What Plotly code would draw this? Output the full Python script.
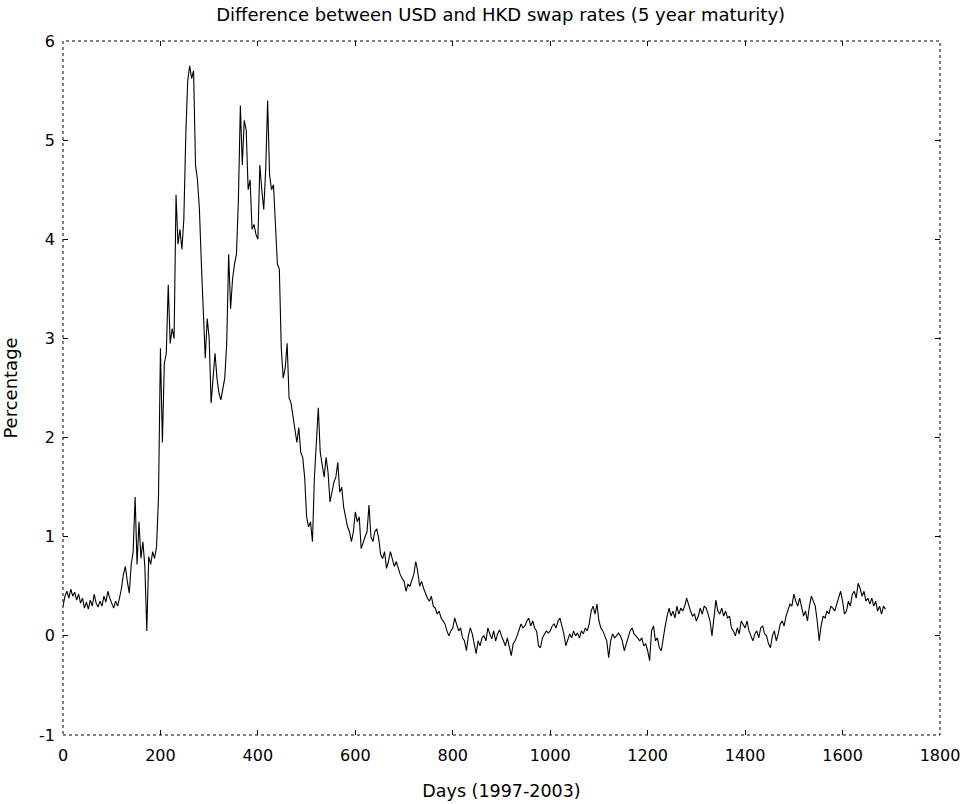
import plotly.graph_objects as go

# Days sampled every 4 days (0 .. 1688)
days = list(range(0, 1692, 4))

# Difference between USD and HKD 5-year swap rates (percentage)
spread = [
    # 0-96
    0.30, 0.40, 0.45, 0.38, 0.47, 0.40, 0.44, 0.36, 0.42, 0.33, 0.38, 0.28, 0.34, 0.27, 0.36, 0.30, 0.42, 0.33, 0.29, 0.35, 0.30, 0.40, 0.34, 0.45, 0.38,
    # 100-196
    0.33, 0.28, 0.35, 0.30, 0.38, 0.48, 0.62, 0.70, 0.55, 0.43, 0.72, 0.85, 1.40, 0.72, 1.15, 0.78, 0.95, 0.70, 0.05, 0.80, 0.72, 0.85, 0.78, 0.90, 1.40,
    # 200-296
    2.90, 1.95, 2.75, 2.85, 3.54, 2.95, 3.10, 3.00, 4.45, 3.95, 4.10, 3.90, 4.20, 5.05, 5.60, 5.75, 5.62, 5.70, 4.75, 4.60, 4.30, 3.75, 3.30, 2.80, 3.20,
    # 300-396
    3.00, 2.35, 2.60, 2.85, 2.60, 2.45, 2.38, 2.50, 2.60, 2.95, 3.85, 3.30, 3.60, 3.75, 3.85, 4.40, 5.35, 4.75, 5.20, 5.10, 4.50, 4.60, 4.10, 4.15, 4.05,
    # 400-496
    4.00, 4.75, 4.50, 4.30, 4.70, 5.40, 4.65, 4.50, 4.55, 4.20, 3.75, 3.70, 2.90, 2.60, 2.70, 2.95, 2.40, 2.35, 2.20, 2.10, 1.95, 2.10, 1.85, 1.80, 1.60,
    # 500-596
    1.20, 1.10, 1.15, 0.95, 1.60, 1.90, 2.30, 1.85, 1.70, 1.60, 1.80, 1.65, 1.35, 1.45, 1.55, 1.60, 1.75, 1.45, 1.50, 1.30, 1.20, 1.10, 1.05, 0.95, 1.05,
    # 600-696
    1.25, 1.15, 1.20, 0.88, 0.95, 1.00, 1.05, 1.32, 1.00, 0.95, 1.05, 1.08, 0.98, 0.82, 0.78, 0.85, 0.68, 0.75, 0.85, 0.78, 0.70, 0.75, 0.68, 0.62, 0.58,
    # 700-796
    0.55, 0.45, 0.52, 0.50, 0.55, 0.62, 0.75, 0.65, 0.50, 0.55, 0.48, 0.42, 0.38, 0.35, 0.40, 0.30, 0.28, 0.22, 0.25, 0.18, 0.15, 0.12, 0.05, 0.00, 0.05,
    # 800-896
    0.08, 0.18, 0.12, 0.05, 0.08, -0.02, -0.05, -0.15, 0.00, 0.08, 0.02, -0.08, -0.18, -0.05, -0.10, -0.02, 0.00, -0.05, 0.08, 0.02, -0.03, 0.05, -0.05, 0.02, 0.06,
    # 900-996
    0.00, -0.05, -0.10, -0.02, -0.12, -0.20, -0.08, -0.05, 0.00, 0.05, 0.12, 0.08, 0.10, 0.15, 0.18, 0.10, 0.15, 0.08, 0.05, -0.10, -0.12, -0.02, 0.02, 0.05, 0.03,
    # 1000-1096
    0.05, 0.10, 0.12, 0.08, 0.15, 0.18, 0.10, 0.02, -0.10, -0.05, 0.02, -0.02, 0.05, 0.00, 0.03, -0.02, 0.05, 0.02, 0.08, 0.05, 0.12, 0.25, 0.30, 0.22, 0.32,
    # 1100-1196
    0.15, 0.08, 0.05, 0.00, -0.05, -0.22, -0.05, 0.02, -0.02, 0.00, 0.03, 0.00, -0.05, -0.15, -0.08, 0.00, 0.05, 0.08, 0.02, 0.00, -0.02, -0.05, -0.02, -0.10, -0.08,
    # 1200-1296
    -0.15, -0.25, 0.05, 0.10, -0.05, -0.02, -0.12, -0.15, 0.00, 0.10, 0.20, 0.28, 0.20, 0.25, 0.18, 0.30, 0.22, 0.28, 0.25, 0.30, 0.38, 0.30, 0.25, 0.20, 0.22,
    # 1300-1396
    0.15, 0.20, 0.28, 0.22, 0.30, 0.28, 0.22, 0.15, 0.00, 0.20, 0.36, 0.25, 0.22, 0.28, 0.20, 0.25, 0.18, 0.20, 0.08, 0.05, 0.00, 0.08, 0.02, 0.15, 0.12,
    # 1400-1496
    0.08, 0.15, 0.05, 0.00, -0.05, 0.02, 0.05, -0.02, 0.08, 0.10, 0.02, 0.00, -0.08, -0.12, 0.00, 0.05, -0.05, 0.02, 0.12, 0.15, 0.10, 0.20, 0.25, 0.32, 0.30,
    # 1500-1596
    0.42, 0.35, 0.30, 0.38, 0.28, 0.20, 0.25, 0.15, 0.30, 0.40, 0.35, 0.30, 0.15, -0.05, 0.10, 0.20, 0.18, 0.25, 0.22, 0.30, 0.28, 0.25, 0.32, 0.38, 0.45,
    # 1600-1688
    0.35, 0.22, 0.25, 0.35, 0.30, 0.42, 0.45, 0.38, 0.53, 0.48, 0.40, 0.45, 0.35, 0.38, 0.32, 0.38, 0.30, 0.35, 0.25, 0.30, 0.22, 0.30, 0.27,
]

x_ticks = [0, 200, 400, 600, 800, 1000, 1200, 1400, 1600, 1800]
y_ticks = [-1, 0, 1, 2, 3, 4, 5, 6]

title_text = "Difference between USD and HKD swap rates (5 year maturity)"
x_title = "Days (1997-2003)"
y_title = "Percentage"

font_family = "DejaVu Sans, Liberation Sans, Arial, sans-serif"

fig = go.Figure()
fig.add_trace(go.Scatter(
    x=days[:len(spread)], y=spread, mode="lines",
    line=dict(color="black", width=1.1),
    hoverinfo="skip", showlegend=False,
))

axis_common = dict(
    showgrid=False, zeroline=False, automargin=False,
    ticks="inside", ticklen=5, tickwidth=1, tickcolor="black",
    mirror="allticks", showline=False,
    ticklabeloverflow="allow",
    tickfont=dict(family=font_family, size=16, color="black"),
)

fig.update_layout(
    width=960, height=804,
    paper_bgcolor="white", plot_bgcolor="white",
    margin=dict(l=63, r=20, t=41, b=69),
    title=dict(text=title_text, x=0.5215, xanchor="center", y=0.982, yanchor="middle",
               font=dict(family=font_family, size=18, color="black")),
    xaxis=dict(range=[0, 1800], tickvals=x_ticks, ticktext=[str(v) for v in x_ticks],
               ticklabelstandoff=9,
               title=dict(text=x_title, font=dict(family=font_family, size=17.5, color="black"), standoff=20),
               **axis_common),
    yaxis=dict(range=[-1, 6], tickvals=y_ticks, ticktext=[str(v) for v in y_ticks],
               ticklabelstandoff=7,
               title=dict(text=y_title, font=dict(family=font_family, size=18, color="black"), standoff=17),
               **axis_common),
    shapes=[dict(type="rect", xref="paper", yref="paper", x0=0, y0=0, x1=1, y1=1,
                 line=dict(color="black", width=1, dash="dot"))],
)

fig.write_html("out.html")
